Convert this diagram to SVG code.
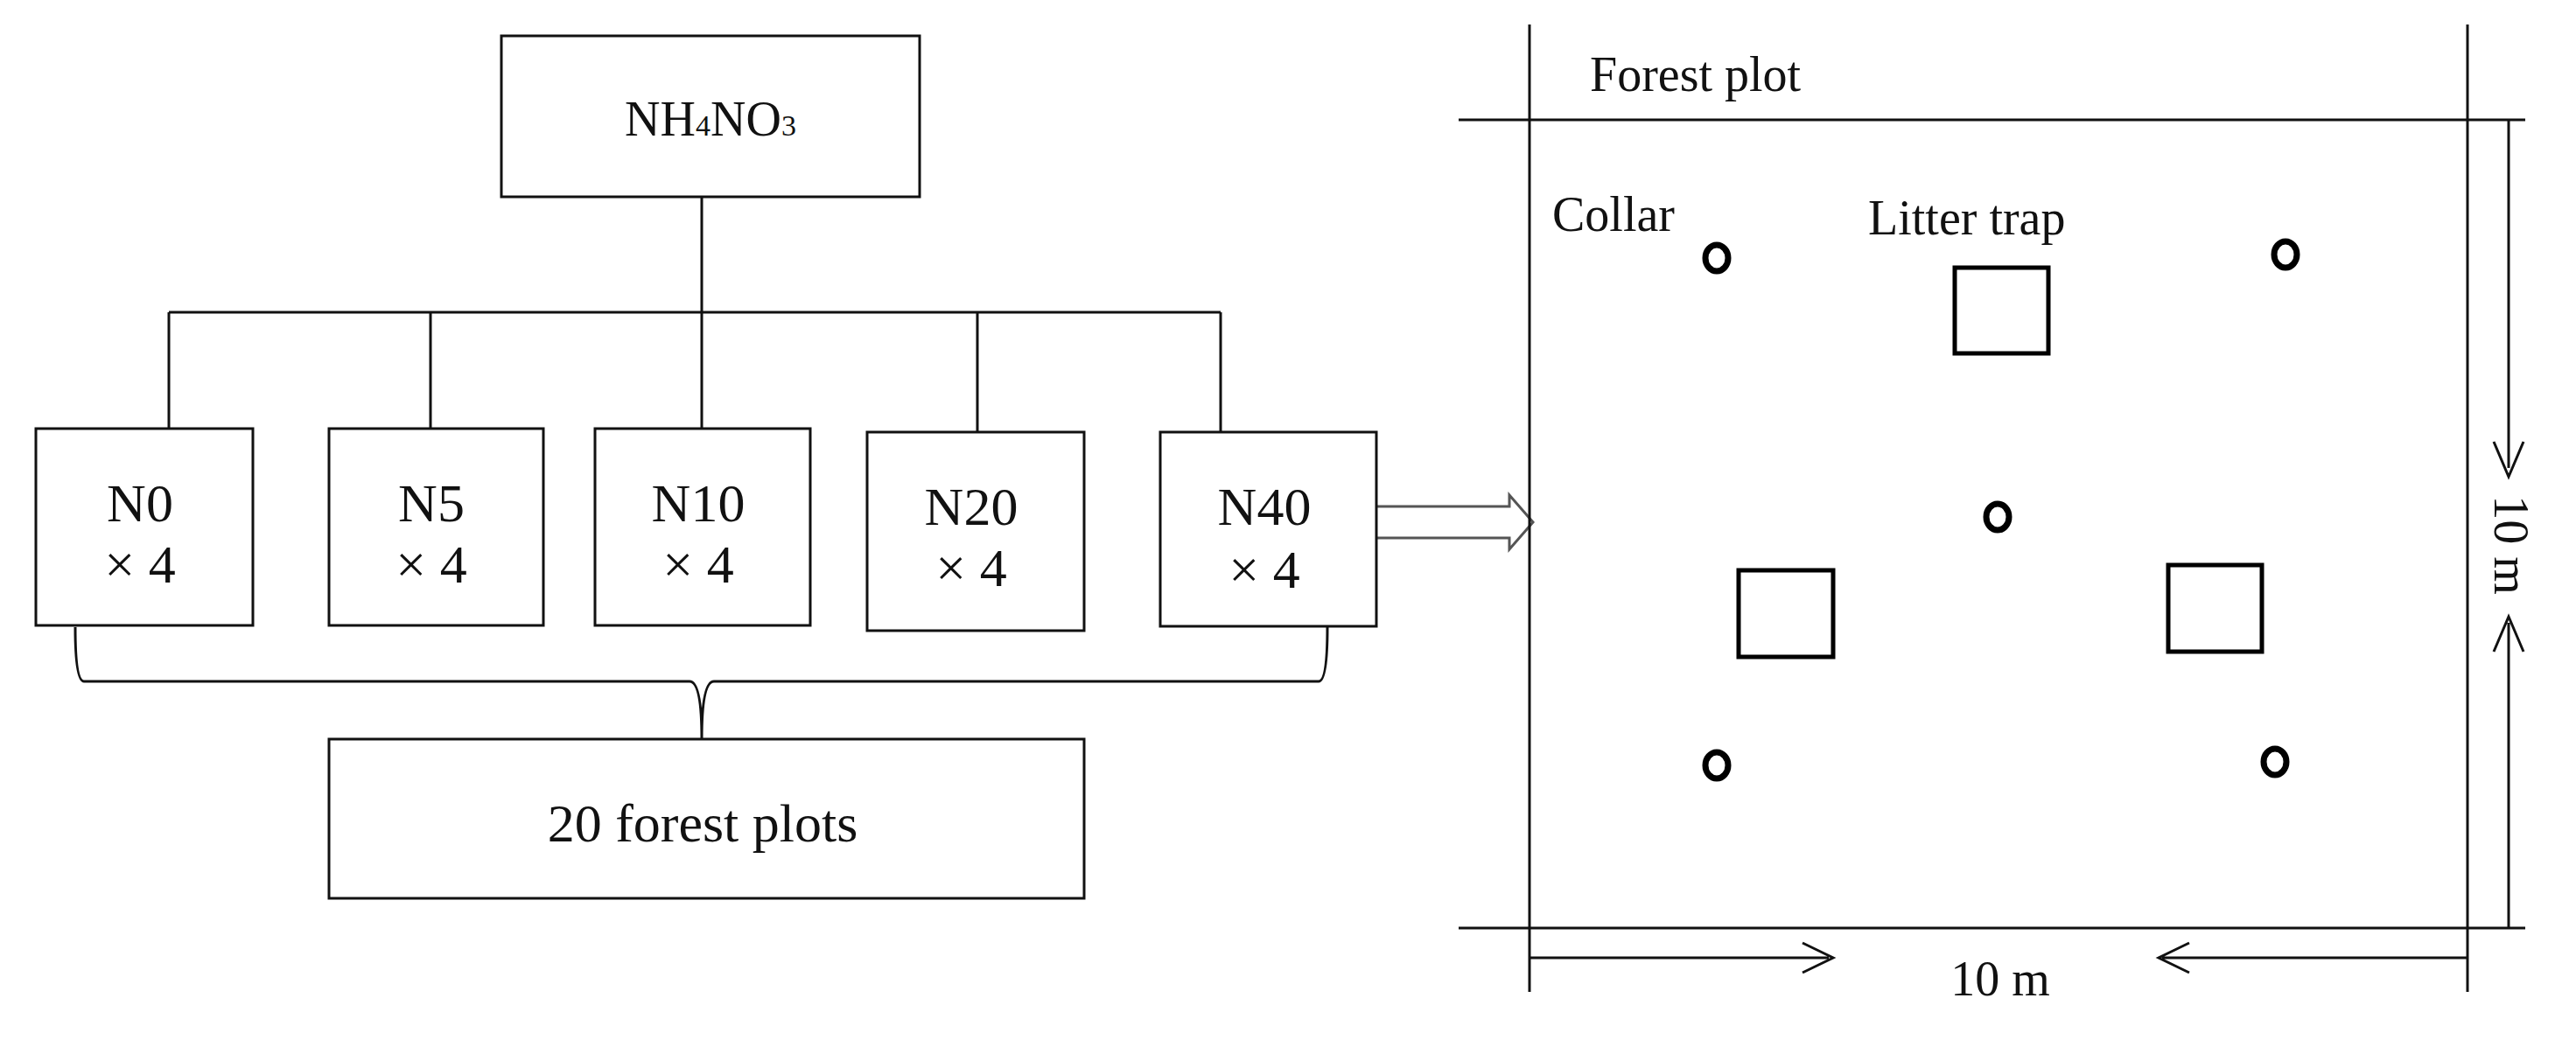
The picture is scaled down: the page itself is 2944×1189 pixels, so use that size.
<svg xmlns="http://www.w3.org/2000/svg" width="2944" height="1189" viewBox="0 0 2944 1189">
<style>
.b{fill:#fff;stroke:#111;stroke-width:3}
.l{fill:none;stroke:#111;stroke-width:3}
.t{font-family:"Liberation Serif",serif;font-size:56px;fill:#111;text-anchor:middle}
.n{font-size:62px}
.a{font-family:"Liberation Serif",serif;font-size:56px;fill:#111;text-anchor:start}
.c{fill:none;stroke:#000;stroke-width:7}
.s{fill:none;stroke:#000;stroke-width:5}
</style>
<rect width="2944" height="1189" fill="#fff"/>
<g id="connectors">
<path class="l" d="M802 225V357M193 357H1395M193 357V490M492 357V490M802 357V490M1117 357V494M1395 357V494"/>
<path class="l" d="M86 717Q86 779 96 779H788Q802 779 802 845M1517 717Q1517 779 1507 779H816Q802 779 802 845"/>
<path d="M1573 579H1725V566L1752 597L1725 628V615H1573" fill="#fff" stroke="#555" stroke-width="3"/>
</g>
<g id="nh4no3"><rect class="b" x="573" y="41" width="478" height="184"/><text class="t" x="812" y="155">NH<tspan font-size="34">4</tspan>NO<tspan font-size="34">3</tspan></text></g>
<g id="n0"><rect class="b" x="41" y="490" width="248" height="225"/><text class="t n" x="160" y="596">N0</text><text class="t n" x="160" y="666">× 4</text></g>
<g id="n5"><rect class="b" x="376" y="490" width="245" height="225"/><text class="t n" x="493" y="596">N5</text><text class="t n" x="493" y="666">× 4</text></g>
<g id="n10"><rect class="b" x="680" y="490" width="246" height="225"/><text class="t n" x="798" y="596">N10</text><text class="t n" x="798" y="666">× 4</text></g>
<g id="n20"><rect class="b" x="991" y="494" width="248" height="227"/><text class="t n" x="1110" y="600">N20</text><text class="t n" x="1110" y="670">× 4</text></g>
<g id="n40"><rect class="b" x="1326" y="494" width="247" height="222"/><text class="t n" x="1445" y="600">N40</text><text class="t n" x="1445" y="672">× 4</text></g>
<g id="plots"><rect class="b" x="376" y="845" width="863" height="182"/><text class="t n" x="803" y="962">20 forest plots</text></g>
<g id="forest-plot">
<path class="l" d="M1748 28V1134M2820 28V1134M1667 137H2886M1667 1061H2886"/>
<text class="a" x="1817" y="104">Forest plot</text>
<text class="a" x="1774" y="264">Collar</text>
<text class="a" x="2135" y="268">Litter trap</text>
<ellipse class="c" cx="1962" cy="295" rx="13" ry="15"/>
<ellipse class="c" cx="2612" cy="291" rx="13" ry="15"/>
<ellipse class="c" cx="2283" cy="591" rx="13" ry="15"/>
<ellipse class="c" cx="1962" cy="875" rx="13" ry="15"/>
<ellipse class="c" cx="2600" cy="871" rx="13" ry="15"/>
<rect class="s" x="2234" y="306" width="107" height="98"/>
<rect class="s" x="1987" y="652" width="108" height="99"/>
<rect class="s" x="2478" y="646" width="107" height="99"/>
<path class="l" d="M2867 137V535M2850 505L2867 545L2884 505M2867 1061V712M2850 745L2867 705L2884 745"/>
<path class="l" d="M1748 1095H2090M2060 1078L2095 1095L2060 1112M2820 1095H2471M2502 1078L2467 1095L2502 1112"/>
<text class="t" transform="translate(2851 623) rotate(90)">10 m</text>
<text class="t" x="2286" y="1138">10 m</text>
</g>
</svg>
